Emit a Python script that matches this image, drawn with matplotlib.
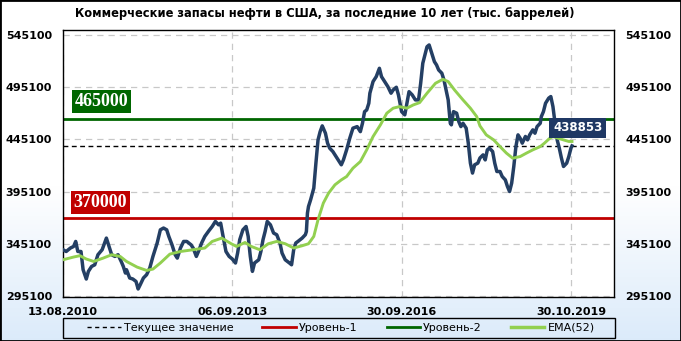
import matplotlib
matplotlib.use("Agg")
import matplotlib.pyplot as plt
import numpy as np
from matplotlib.patches import Rectangle
from matplotlib.lines import Line2D

title = "Коммерческие запасы нефти в США, за последние 10 лет (тыс. баррелей)"
tick_pos = [0, 160, 320, 480]
tick_labels = ["13.08.2010", "06.09.2013", "30.09.2016", "30.10.2019"]
y_ticks = [295100, 345100, 395100, 445100, 495100, 545100]
level1 = 370000
level2 = 465000
current = 438853
legend_labels = ["Текущее значение", "Уровень-1", "Уровень-2", "EMA(52)"]

weeks = [0, 3, 7, 10, 12, 14, 17, 19, 22, 24, 27, 30, 33, 37, 41, 44, 46, 49, 52, 55,
         57, 59, 60, 63, 66, 69, 71, 73, 76, 79, 82, 85, 89, 92, 95, 98, 100, 103, 106, 108,
         111, 114, 117, 121, 123, 126, 128, 131, 134, 138, 141, 144, 147, 149, 151, 154, 157, 160, 163, 165,
         167, 170, 173, 175, 177, 179, 181, 185, 187, 189, 191, 193, 196, 199, 202, 205, 207, 210, 214, 216,
         218, 220, 222, 226, 229, 230, 231, 232, 234, 237, 239, 241, 243, 245, 248, 250, 252, 255, 258, 260,
         263, 265, 268, 271, 274, 278, 281, 283, 285, 287, 289, 290, 293, 296, 299, 301, 304, 307, 310, 312,
         315, 317, 320, 323, 325, 327, 330, 333, 336, 338, 340, 342, 344, 346, 348, 351, 353, 355, 358, 360,
         362, 364, 366, 367, 369, 372, 374, 376, 378, 381, 383, 385, 387, 389, 392, 394, 397, 399, 401, 403,
         406, 408, 410, 413, 415, 418, 420, 422, 424, 426, 428, 430, 432, 434, 437, 439, 441, 444, 446, 448,
         451, 452, 454, 456, 459, 461, 463, 465, 467, 469, 471, 473, 476, 478, 480, 481]
stocks = [339700, 338000, 341300, 342800, 347600, 338000, 338000, 320600, 311700, 319000,
          323700, 325300, 334900, 339700, 350800, 341300, 334900, 333300, 334900, 328500,
          323700, 317400, 320600, 312700, 311700, 309400, 302200, 306300, 312700, 315800,
          322200, 333300, 346100, 358700, 360400, 358700, 352400, 344400, 334900, 331700,
          341300, 347600, 347600, 344400, 341300, 333300, 338000, 346100, 352400, 358000,
          361900, 366700, 363500, 365100, 354000, 338000, 333300, 330800, 327000, 336500,
          349200, 358700, 361900, 352400, 333300, 319000, 327000, 330100, 338000, 349200,
          357100, 366700, 363500, 355600, 354000, 346100, 336500, 330100, 327000, 325300,
          339700, 346100, 347600, 350800, 354000, 357100, 374700, 381000, 387400, 398500,
          422400, 444600, 452500, 458000, 451000, 441500, 436700, 433500, 428700, 425500,
          420800, 425500, 435100, 446200, 455800, 457300, 452500, 460500, 471600, 473200,
          479600, 489200, 500300, 505000, 513000, 505000, 500300, 495500, 489200, 492300,
          494900, 487600, 471600, 468500, 479600, 490700, 487600, 482800, 482800, 498700,
          517800, 525700, 533600, 535300, 528900, 519300, 516200, 511400, 508300, 501900,
          492300, 482800, 460500, 459000, 471600, 470100, 462100, 457300, 460500, 455800,
          441500, 422400, 412900, 420800, 422400, 427300, 430300, 425500, 435100, 436700,
          433500, 422400, 414400, 414400, 409700, 406400, 400100, 395300, 403300, 419200,
          438200, 449400, 446200, 441500, 447900, 444600, 449400, 454200, 451000, 457300,
          460500, 466800, 471600, 479600, 484500, 486000, 476400, 460500, 444600, 436700,
          427300, 419200, 422400, 428700, 436700, 438853]

ema_weeks = [0, 10, 16, 22, 29, 38, 46, 54, 60, 70, 79, 85, 92, 101, 111, 123, 134, 141, 150, 159,
             164, 172, 178, 186, 194, 202, 210, 218, 226, 232, 237, 241, 246, 251, 257, 263, 268, 274, 281, 287,
             293, 300, 306, 312, 318, 325, 331, 337, 344, 352, 359, 364, 370, 378, 385, 391, 394, 400, 407, 413,
             419, 425, 432, 438, 444, 451, 455, 460, 463, 468, 473, 478, 481]
ema52 = [330100, 332700, 334000, 330800, 328500, 331700, 334900, 333300, 328500, 323100,
         319900, 321200, 327000, 335500, 338000, 339700, 341300, 347600, 350800, 345400,
         342800, 346600, 342800, 339700, 345400, 347600, 345400, 341300, 343500, 345400,
         352400, 368300, 384200, 393800, 401700, 406400, 409600, 417600, 423900, 435100,
         447800, 459000, 470100, 474900, 476400, 474900, 478000, 480200, 489200, 498700,
         502500, 500300, 492300, 482800, 474900, 466800, 458000, 449400, 444600, 438200,
         432000, 427100, 428700, 432000, 435100, 438200, 441500, 446200, 447800, 446200,
         444600, 443100, 443100]

W, H = 681, 341
fig = plt.figure(figsize=(W / 100, H / 100), dpi=100)

# background gradient
bg = fig.add_axes([0, 0, 1, 1], zorder=-10)
rows = np.arange(H)
t = np.clip((rows - 185) / (H - 185), 0, 1)
top = np.array([1.0, 1.0, 1.0])
bot = np.array([0.86, 0.92, 0.98])
img = top[None, :] * (1 - t[:, None]) + bot[None, :] * t[:, None]
img = np.repeat(img[:, None, :], 2, axis=1)
bg.imshow(img, aspect="auto", extent=[0, 1, 0, 1], origin="upper")
bg.set_axis_off()

ax = fig.add_axes([63 / W, 44 / H, 551 / W, 267 / H])
ax.set_facecolor("white")
ax.set_xlim(0, 520.7)
ax.set_ylim(294530, 549580)
ax.set_yticks(y_ticks)
ax.set_yticklabels([str(v) for v in y_ticks])
ax.set_xticks(tick_pos)
ax.set_xticklabels(tick_labels)
ax.tick_params(axis="y", length=0, pad=8, labelleft=True, labelright=True,
               labelsize=8)
ax.tick_params(axis="x", length=0, pad=7, labelsize=8)
for lab in ax.get_xticklabels() + ax.get_yticklabels():
    lab.set_fontweight("bold")
for tl in ax.yaxis.get_major_ticks():
    tl.label2.set_fontweight("bold")
    tl.label2.set_fontsize(8)
ax.grid(True, color="#c8c8c8", linestyle=(0, (5, 4)), linewidth=0.9, zorder=0)
for s in ax.spines.values():
    s.set_linewidth(1.0)
    s.set_color("black")

ax.axhline(level2, color="#006600", linewidth=2.0, zorder=2)
ax.axhline(level1, color="#c00000", linewidth=2.0, zorder=2)
ax.axhline(current, color="black", linewidth=1.0, linestyle=(0, (3.5, 2.5)), zorder=3)
ax.plot(weeks, stocks, color="#243f64", linewidth=2.5, zorder=4, solid_joinstyle="round")
ax.plot(ema_weeks, ema52, color="#92d050", linewidth=2.1, zorder=5)

ax.text(0.0209, 0.732, f"{level2}", transform=ax.transAxes, ha="left", va="center",
        color="white", fontsize=13, fontweight="bold", family="Liberation Serif",
        bbox=dict(boxstyle="square,pad=0.15", facecolor="#006600", edgecolor="none"), zorder=7)
ax.text(0.0190, 0.354, f"{level1}", transform=ax.transAxes, ha="left", va="center",
        color="white", fontsize=13, fontweight="bold", family="Liberation Serif",
        bbox=dict(boxstyle="square,pad=0.15", facecolor="#c00000", edgecolor="none"), zorder=7)
ax.text(0.934, 0.633, f"{current}", transform=ax.transAxes, ha="center", va="center",
        color="white", fontsize=8.5, fontweight="bold",
        bbox=dict(boxstyle="square,pad=0.3", facecolor="#1f3864", edgecolor="none"), zorder=7)

fig.text(325 / W, 1 - 14 / H, title, ha="center", va="center", fontsize=8.3, fontweight="bold")

handles = [
    Line2D([], [], color="black", linewidth=1.0, linestyle=(0, (3, 2.5))),
    Line2D([], [], color="#c00000", linewidth=2.0),
    Line2D([], [], color="#006600", linewidth=2.0),
    Line2D([], [], color="#92d050", linewidth=2.5),
]
fig.legend(handles, legend_labels, loc="center", bbox_to_anchor=(341 / W, 1 - 328 / H),
           ncol=4, frameon=False, fontsize=8, handlelength=3.0, handletextpad=0.3,
           columnspacing=2.6)
fig.add_artist(Rectangle((63 / W, 1 - 338 / H), 552 / W, 20 / H, transform=fig.transFigure,
                         fill=False, edgecolor="black", linewidth=1.0))
fig.add_artist(Rectangle((0, 0), 1, 1, transform=fig.transFigure, fill=False,
                         edgecolor="black", linewidth=2.0))

fig.savefig("out.png", dpi=100)
